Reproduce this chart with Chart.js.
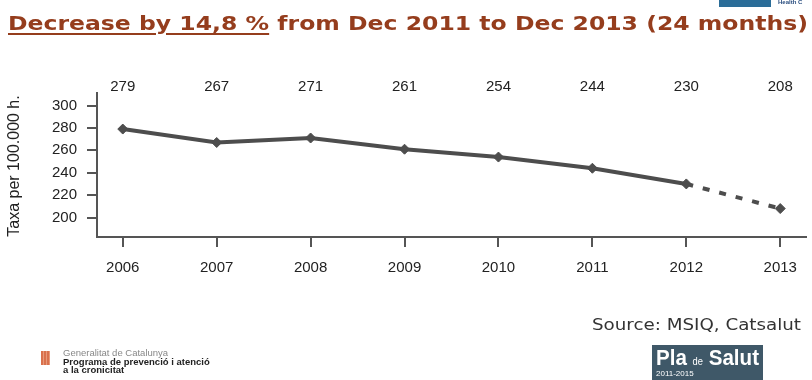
<!DOCTYPE html>
<html>
<head>
<meta charset="utf-8">
<script src="https://cdn.jsdelivr.net/npm/chart.js@4"></script>
<style>
  html, body { margin: 0; padding: 0; background: #fff; }
  #wrap { position: relative; width: 812px; height: 380px; overflow: hidden; }
  #c { position: absolute; left: 0; top: 0; }
  .fit { position: absolute; white-space: nowrap; transform-origin: 0 0; }
  #title { left: 8px; top: 11px; font: bold 20px "DejaVu Sans", Verdana, sans-serif; color: #953d1d; }
  #title u { text-decoration-thickness: 2px; text-underline-offset: 3px; }
  #source { left: 592px; top: 315px; font: 16px "DejaVu Sans", Tahoma, sans-serif; color: #333; }
  #hc { position: absolute; left: 719px; top: 0; width: 52px; height: 7px; background: #2b6d98; }
  #hctxt { position: absolute; left: 778px; top: -1px; font: bold 6px "Liberation Sans", Arial, sans-serif; color: #2b4f80; }
  #gen { position: absolute; left: 41px; top: 351px; width: 9px; height: 14px;
         background: repeating-linear-gradient(90deg, #d9714d 0 2px, #e89a7a 2px 3px); }
  #gentxt { position: absolute; left: 63px; top: 349px; font: 9.5px/8.5px "Liberation Sans", Arial, sans-serif; color: #888; }
  #gentxt b { color: #222; }
  #pla { position: absolute; left: 652px; top: 345px; width: 111px; height: 40px; background: #3f5868; color: #fff;
         font-family: "Liberation Sans", Arial, sans-serif; }
  #pla .big { left: 4px; top: 0px; font-size: 22px; font-weight: bold; }
  #pla .big small { font-size: 10px; font-weight: normal; }
  #pla .yr { position: absolute; left: 4px; top: 24px; font-size: 8px; }
</style>
</head>
<body>
<div id="wrap">
  <canvas id="c" width="812" height="380"></canvas>
  <div id="title" class="fit" data-w="800"><u>Decrease by 14,8 %</u> from Dec 2011 to Dec 2013 (24 months)</div>
  <div id="source" class="fit" data-w="209">Source: MSIQ, Catsalut</div>
  <div id="hc"></div>
  <div id="hctxt">Health C</div>
  <div id="gen"></div>
  <div id="gentxt">Generalitat de Catalunya<br><b>Programa de prevenció i atenció<br>a la cronicitat</b></div>
  <div id="pla"><div class="big fit" data-w="103">Pla <small>de</small> Salut</div><div class="yr">2011-2015</div></div>
</div>
<script>
// data
const years = [2006, 2007, 2008, 2009, 2010, 2011, 2012, 2013];
const rates = [279, 267, 271, 261, 254, 244, 230, 208];
const yTicks = [200, 220, 240, 260, 280, 300];
const yTitle = 'Taxa per 100.000 h.';

// squeeze html texts to the width seen in the picture
document.querySelectorAll('.fit').forEach(el => {
    const w = el.getBoundingClientRect().width;
    el.style.transform = 'scaleX(' + (parseFloat(el.dataset.w) / w) + ')';
});

Chart.defaults.font.family = '"Liberation Sans", Arial, sans-serif';
Chart.defaults.color = '#222';

const lineColor = '#4d4d4d';
const axisColor = '#555';

// value labels on top + rotated y title
const extras = {
    id: 'extras',
    afterDraw(chart) {
        const ctx = chart.ctx;
        const xs = chart.scales.x;
        ctx.save();
        ctx.font = '15px "Liberation Sans", Arial, sans-serif';
        ctx.fillStyle = '#222';
        ctx.textAlign = 'center';
        ctx.textBaseline = 'middle';
        for (let i = 0; i < years.length; i++) {
            ctx.fillText(String(rates[i]), xs.getPixelForValue(years[i]), 87);
        }
        ctx.translate(15, 166);
        ctx.rotate(-Math.PI / 2);
        ctx.font = '16px "Liberation Sans", Arial, sans-serif';
        ctx.fillText(yTitle, 0, 0);
        ctx.restore();
    }
};

const chart = new Chart(document.getElementById('c'), {
    type: 'line',
    data: {
        datasets: [{
            data: years.map((y, i) => ({ x: y, y: rates[i] })),
            borderColor: lineColor,
            backgroundColor: lineColor,
            borderWidth: 4,
            pointStyle: 'rectRot',
            pointRadius: 5,
            pointBorderWidth: 1,
            tension: 0,
            segment: {
                borderDash: ctx => ctx.p1DataIndex === years.length - 1 ? [7, 10] : undefined
            }
        }]
    },
    options: {
        responsive: false,
        animation: false,
        layout: { padding: { left: 0, top: 93, right: 0, bottom: 103 } },
        plugins: { legend: { display: false }, tooltip: { enabled: false } },
        scales: {
            x: {
                type: 'linear',
                min: 2005.7255,
                max: 2013.2745,
                afterBuildTicks: s => { s.ticks = years.map(v => ({ value: v })); },
                afterFit: s => { s.height = 40; },
                border: { display: true, color: axisColor, width: 2 },
                grid: { drawOnChartArea: false, drawTicks: true, tickLength: 10, color: axisColor, lineWidth: 2 },
                ticks: { padding: 12, font: { size: 15 }, color: '#222', callback: v => String(v), maxRotation: 0 }
            },
            y: {
                min: 182.6,
                max: 311.2,
                afterBuildTicks: s => { s.ticks = yTicks.map(v => ({ value: v })); },
                afterFit: s => { s.width = 97; },
                border: { display: true, color: axisColor, width: 2 },
                grid: { drawOnChartArea: false, drawTicks: true, tickLength: 10, color: axisColor, lineWidth: 2 },
                ticks: { padding: 10, font: { size: 15 }, color: '#222' }
            }
        }
    },
    plugins: [extras]
});
</script>
</body>
</html>
